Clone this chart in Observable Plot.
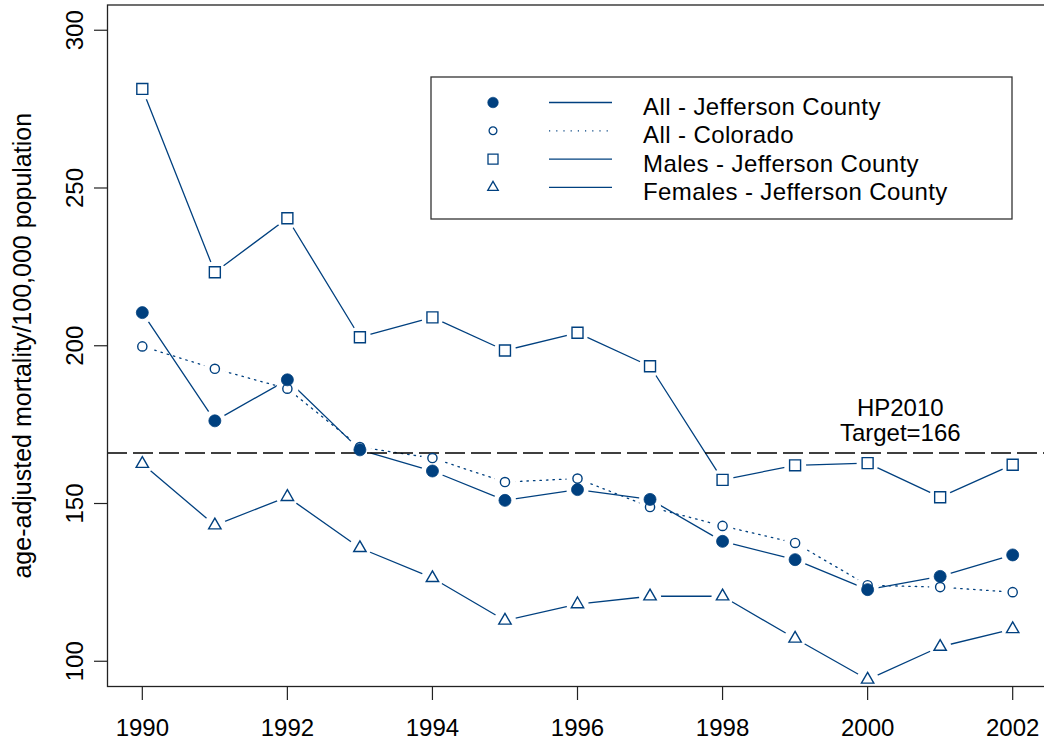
<!DOCTYPE html>
<html><head><meta charset="utf-8">
<script src="https://cdn.jsdelivr.net/npm/d3@7"></script>
<script src="https://cdn.jsdelivr.net/npm/@observablehq/plot@0.6"></script>
<style>
body{margin:0;background:#fff;}
#wrap{position:relative;width:1044px;height:744px;overflow:hidden;}
</style></head><body><div id="wrap"></div>
<script>
const years = [1990,1991,1992,1993,1994,1995,1996,1997,1998,1999,2000,2001,2002];
const allJefferson = [210.5,176.2,189.2,167.0,160.3,151.0,154.4,151.3,138.0,132.2,122.7,126.9,133.7];
const allColorado  = [199.8,192.7,186.4,167.9,164.4,156.8,157.9,148.9,142.9,137.5,124.1,123.5,121.9];
const malesJefferson = [281.4,223.3,240.4,202.7,209.0,198.5,204.1,193.5,157.5,162.1,162.8,152.0,162.3];
const femalesJefferson = [162.6,143.1,152.1,135.9,126.4,112.9,118.1,120.6,120.6,107.2,94.2,104.6,110.2];
const seriesNames = ["All - Jefferson County","All - Colorado","Males - Jefferson County","Females - Jefferson County"];
const xTicks = [1990,1992,1994,1996,1998,2000,2002];
const yTicks = [100,150,200,250,300];
const target = 166;
const targetLabel = "HP2010\nTarget=166";
const targetLabelYear = 2000.45;
const yTitle = "age-adjusted mortality/100,000 population";

const BLUE = "#00407f";
const FONT = "Liberation Sans, Arial, Helvetica, sans-serif";

const seriesValues = [allJefferson, allColorado, malesJefferson, femalesJefferson];
const rows = seriesNames.flatMap((s, k) => years.map((yr, i) => ({year: yr, value: seriesValues[k][i], series: s})));
const styles = {
  [seriesNames[0]]: {symbol: "circle", fill: BLUE, r: 6, dash: null, ldash: null, lsym: d3.symbolCircle, lsize: Math.PI*5.3*5.3},
  [seriesNames[1]]: {symbol: "circle", fill: "none", r: 4.6, dash: "1.5,5", ldash: "1.2,6", lsym: d3.symbolCircle, lsize: Math.PI*3.9*3.9},
  [seriesNames[2]]: {symbol: "square", fill: "none", r: 6.2, dash: null, ldash: null, lsym: d3.symbolSquare, lsize: 100},
  [seriesNames[3]]: {symbol: "triangle", fill: "none", r: 4.6, dash: null, ldash: null, lsym: d3.symbolTriangle, lsize: 48}
};

const lineMarks = seriesNames.map(s => Plot.line(rows.filter(d => d.series === s), {
  x: "year", y: "value", stroke: BLUE, strokeWidth: 1.3, strokeDasharray: styles[s].dash
}));
const dotOrder = [seriesNames[1], seriesNames[2], seriesNames[3], seriesNames[0]];
const dotMarks = dotOrder.map(s => {
  const st = styles[s];
  return Plot.dot(rows.filter(d => d.series === s), {
    x: "year", y: "value", symbol: st.symbol, r: st.r,
    fill: st.fill, stroke: BLUE, strokeWidth: st.fill === "none" ? 1.4 : 0.8
  });
});

const chart = Plot.plot({
  width: 1044, height: 744,
  marginLeft: 107, marginRight: -3, marginTop: 4.5, marginBottom: 58,
  style: {fontFamily: FONT, fontSize: "24px", background: "white", color: "black"},
  x: {domain: [1989.52, 2002.48], axis: null},
  y: {domain: [92, 308], axis: null},
  marks: [
    ...lineMarks,
    Plot.dot(rows, {x: "year", y: "value", r: 11, fill: "white", stroke: null}),
    Plot.ruleY([target], {stroke: "black", strokeWidth: 1.6, strokeDasharray: "20,6"}),
    ...dotMarks,
    Plot.text([targetLabel], {x: () => targetLabelYear, y: () => target, text: d => d, lineAnchor: "bottom", lineHeight: 1.04, dy: -12.5, fontSize: 24, fill: "black"}),
    Plot.frame({stroke: "#222", strokeWidth: 1.3}),
    Plot.axisX(xTicks, {tickSize: 14, tickPadding: 18, tickFormat: d => String(d), fontSize: 24, label: null, stroke: "#222", strokeWidth: 1.2}),
    Plot.axisY(yTicks, {tickSize: 13, tickRotate: -90, tickPadding: 12, tickFormat: d => String(d), fontSize: 24, label: null, stroke: "#222", strokeWidth: 1.2}),
    Plot.text([yTitle], {frameAnchor: "left", rotate: -90, dx: -85, text: d => d, fontSize: 25, fill: "black", textAnchor: "middle", lineAnchor: "middle"})
  ]
});
document.getElementById("wrap").appendChild(chart);

// Legend box
const svg = d3.select(chart);
const lg = svg.append("g").attr("font-family", FONT).attr("font-size", 24).attr("text-anchor", "start");
lg.append("rect").attr("x", 431).attr("y", 77).attr("width", 581).attr("height", 142)
  .attr("fill", "white").attr("stroke", "#333").attr("stroke-width", 1.3);
seriesNames.forEach((s, i) => {
  const st = styles[s];
  const cy = 102.5 + i * 28.3;
  lg.append("path").attr("d", d3.symbol().type(st.lsym).size(st.lsize)())
    .attr("transform", `translate(493,${cy})`)
    .attr("fill", st.fill).attr("stroke", BLUE).attr("stroke-width", st.fill === "none" ? 1.3 : 0.6);
  lg.append("line").attr("x1", 549).attr("x2", 612).attr("y1", cy).attr("y2", cy)
    .attr("stroke", BLUE).attr("stroke-width", 1.3).attr("stroke-dasharray", st.ldash);
  lg.append("text").attr("x", 643).attr("y", cy + 12.4).attr("fill", "black")
    .attr("text-anchor", "start").attr("letter-spacing", "0.4px").text(s);
});
</script></body></html>
